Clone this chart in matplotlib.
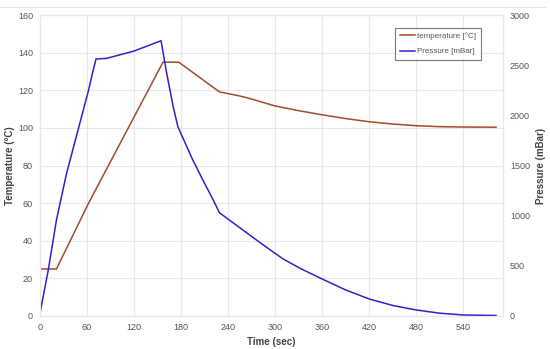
import matplotlib.pyplot as plt
from matplotlib.lines import Line2D

plt.rcParams['font.family'] = ['Liberation Sans', 'DejaVu Sans']

# ---- data ----
temp_t = [0, 21, 62, 157, 177, 229, 255, 270, 300, 330, 360, 390, 420, 450, 480, 510, 540, 582]
temp_v = [25, 25, 60, 135, 135, 119.2, 117, 115.4, 111.7, 109.2, 107, 105, 103.3, 102.1,
          101.2, 100.7, 100.5, 100.4]

pres_t = [0, 10.6, 21, 34, 45, 62, 67, 71.5, 85, 120, 154.5, 161.7, 170, 176,
          194, 210, 220, 229, 255, 275, 294, 310, 332, 360, 390, 420, 450, 480,
          510, 540, 582]
pres_v = [27, 459, 957, 1425, 1750, 2253, 2422, 2562, 2569, 2642, 2745, 2420, 2087, 1887,
          1572, 1323, 1174, 1030, 880, 765, 658, 570, 475, 369, 260, 170, 105, 60,
          28, 10, 5]

x_ticks = [0, 60, 120, 180, 240, 300, 360, 420, 480, 540]
t_ticks = [0, 20, 40, 60, 80, 100, 120, 140, 160]
p_ticks = [0, 500, 1000, 1500, 2000, 2500, 3000]

temp_col = '#a34a2c'
pres_col = '#2b24c8'
grid_col = '#e8e8e8'
txt_col = '#555555'

fig = plt.figure(figsize=(5.5, 3.49), dpi=100)
ax = fig.add_axes([0.0727, 0.0946, 0.842, 0.862])
ax2 = ax.twinx()

l1, = ax.plot(temp_t, temp_v, color=temp_col, lw=1.1, label='temperature [°C]')
l2, = ax2.plot(pres_t, pres_v, color=pres_col, lw=1.1, label='Pressure [mBar]')

ax.set_xlim(0, 591)
ax.set_ylim(0, 160)
ax2.set_ylim(0, 3000)
ax.set_xticks(x_ticks)
ax.set_yticks(t_ticks)
ax2.set_yticks(p_ticks)

ax.grid(True, color=grid_col, lw=0.8)
ax.set_axisbelow(True)
for a in (ax, ax2):
    for s in a.spines.values():
        s.set_color(grid_col)
    a.tick_params(length=0, labelsize=6.5, colors=txt_col, pad=5)

ax.set_xlabel('Time (sec)', fontsize=7, fontweight='bold', color='#444444', labelpad=4)
ax.set_ylabel('Temperature (°C)', fontsize=7, fontweight='bold', color='#444444', labelpad=2)
ax2.set_ylabel('Pressure (mBar)', fontsize=7, fontweight='bold', color='#444444', labelpad=4)

leg = ax.legend(handles=[l1, l2], loc='upper right', bbox_to_anchor=(0.952, 0.957),
                fontsize=5.8, frameon=True, fancybox=False, handlelength=1.9,
                handletextpad=0.3, borderpad=0.55, labelspacing=0.95, borderaxespad=0)
leg.get_frame().set_edgecolor('#555555')
leg.get_frame().set_linewidth(0.8)
for t in leg.get_texts():
    t.set_color(txt_col)

# faint line along the top of the picture
fig.add_artist(Line2D([0, 0.99], [0.98, 0.98], transform=fig.transFigure,
                      color='#e6e6e6', lw=0.8))

fig.savefig('out.png', dpi=100)
